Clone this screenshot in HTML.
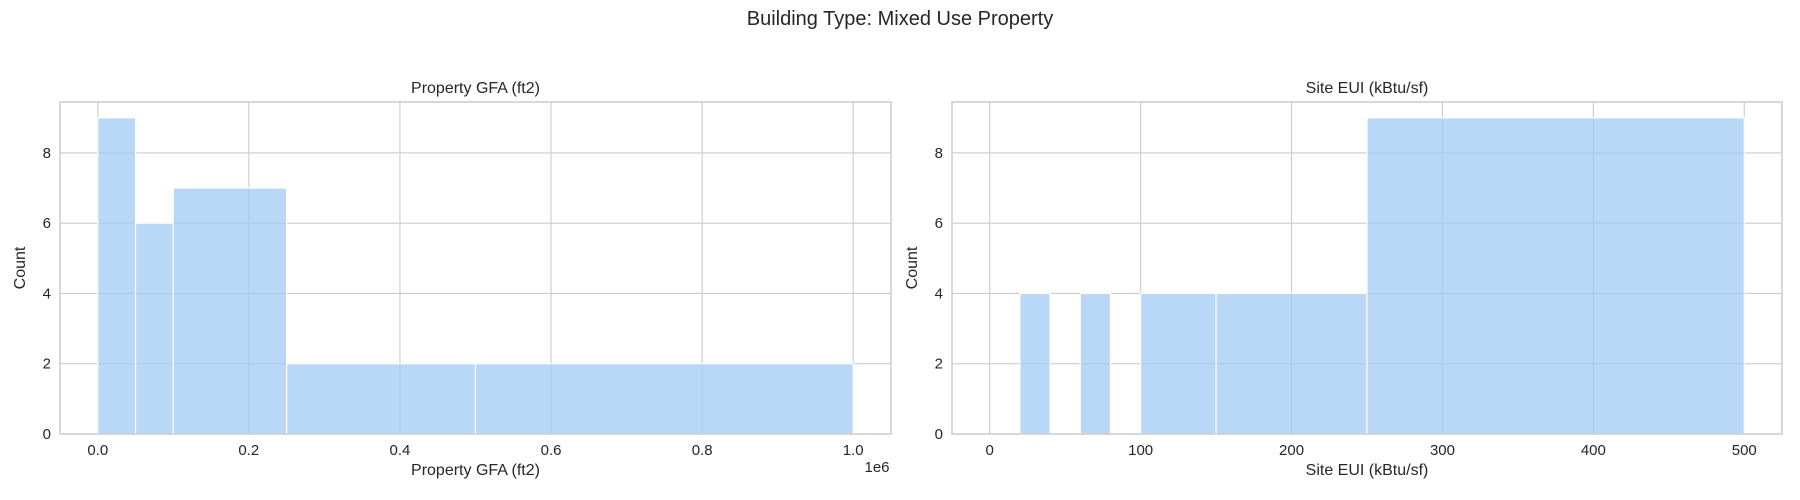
<!DOCTYPE html>
<html><head><meta charset="utf-8"><style>
html,body{margin:0;padding:0;background:#fff}
svg{display:block;font-family:"Liberation Sans",sans-serif}
</style></head><body>
<svg id="c" width="1800" height="500" viewBox="0 0 1800 500">
<text x="900" y="25" font-size="20" text-anchor="middle" fill="#262626">Building Type: Mixed Use Property</text>
</svg>
<script>
const gfaEdges=[0,0.05,0.1,0.25,0.5,1.0];
const gfaCounts=[9,6,7,2,2];
const gfaTicks=[0,0.2,0.4,0.6,0.8,1.0];
const gfaTickLabels=["0.0","0.2","0.4","0.6","0.8","1.0"];
const euiEdges=[20,40,60,80,100,150,250,500];
const euiCounts=[4,0,4,0,4,4,9];
const euiTicks=[0,100,200,300,400,500];
const euiTickLabels=["0","100","200","300","400","500"];
const yTicks=[0,2,4,6,8];

const NS="http://www.w3.org/2000/svg";
const svg=document.getElementById('c');
function mk(tag,attrs,parent){const e=document.createElementNS(NS,tag);for(const k in attrs)e.setAttribute(k,attrs[k]);(parent||svg).appendChild(e);return e;}

function panel(id,x0,x1,y0,y1,xmin,xmax,edges,counts,ticks,labels,title,xlabel,extra){
  const g=mk('g',{});
  
  
  const ymax=9.45;
  const sx=v=>x0+(v-xmin)/(xmax-xmin)*(x1-x0);
  const sy=v=>y1-v/ymax*(y1-y0);
  ticks.forEach((t,i)=>{const l=mk('line',{x1:sx(t),x2:sx(t),y1:y0,y2:y1,stroke:'#cccccc','stroke-width':1.1},g);
    
    });
  yTicks.forEach(t=>{const l=mk('line',{x1:x0,x2:x1,y1:sy(t),y2:sy(t),stroke:'#cccccc','stroke-width':1.1},g);
    
    });
  counts.forEach((c,i)=>{ if(c<=0) return;
    const a=sx(edges[i]),b=sx(edges[i+1]);
    const r=mk('rect',{x:a,y:sy(c),width:b-a,height:sy(0)-sy(c),fill:'#a1c9f4','fill-opacity':0.75,stroke:'#ffffff','stroke-width':1.2},g);
    
    
  });
  const s=mk('rect',{x:x0,y:y0,width:x1-x0,height:y1-y0,fill:'none',stroke:'#cccccc','stroke-width':1.5},g);
  
  
  ticks.forEach((t,i)=>{const tx=mk('text',{x:sx(t),y:y1+21,'font-size':15,'text-anchor':'middle',fill:'#262626'},g);tx.textContent=labels[i];
    
    });
  yTicks.forEach(t=>{const tx=mk('text',{x:x0-9,y:sy(t)+5,'font-size':15,'text-anchor':'end',fill:'#262626'},g);tx.textContent=String(t);
    
    });
  const tt=mk('text',{x:(x0+x1)/2,y:y0-9,'font-size':16,'text-anchor':'middle',fill:'#262626'},g);tt.textContent=title;
  
  
  const xl=mk('text',{x:(x0+x1)/2,y:y1+41,'font-size':16,'text-anchor':'middle',fill:'#262626'},g);xl.textContent=xlabel;
  
  
  const yx=x0-35, yy=(y0+y1)/2;
  const yl=mk('text',{x:yx,y:yy,'font-size':16,'text-anchor':'middle',fill:'#262626',transform:`rotate(-90 ${yx} ${yy})`},g);yl.textContent='Count';
  
  
  if(extra){const e=mk('text',{x:x1-14,y:y1+38,'font-size':15,'text-anchor':'middle',fill:'#262626'},g);e.textContent=extra;
    
    }
}
panel('gfa',60,891,102,434,-0.05,1.05,gfaEdges,gfaCounts,gfaTicks,gfaTickLabels,'Property GFA (ft2)','Property GFA (ft2)','1e6');
panel('eui',952,1782,102,434,-25,525,euiEdges,euiCounts,euiTicks,euiTickLabels,'Site EUI (kBtu/sf)','Site EUI (kBtu/sf)',null);
</script>
</body></html>
